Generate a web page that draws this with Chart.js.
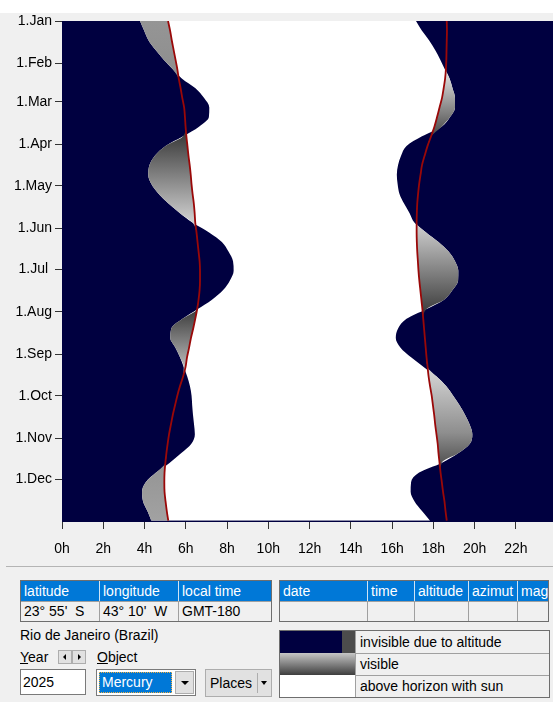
<!DOCTYPE html>
<html>
<head>
<meta charset="utf-8">
<script src="https://cdn.jsdelivr.net/npm/chart.js@4.4.1/dist/chart.umd.min.js"></script>
<style>
  body { margin: 0; width: 553px; height: 702px; overflow: hidden; background: #f0f0f0;
         font-family: "Liberation Sans", Arial, sans-serif; font-size: 14px; color: #000; position: relative; }
  .abs { position: absolute; }
  #topStrip { left: 0; top: 0; width: 553px; height: 13px; background: #fff; }
  #chartBox { left: 0; top: 0; width: 553px; height: 565px; }
  .sep { left: 6px; top: 566px; width: 547px; height: 1px; background: #b4b4b4; }
  .grid { border: 1px solid #6e6e6e; background: #f0f0f0; box-sizing: border-box; }
  .row { position: absolute; left: 0; right: 0; height: 20px; display: flex; }
  .row.head { top: 0; background: #0078d7; color: #fff; }
  .row.body { top: 20px; height: 19px; border-top: 1px solid #a0a0a0; }
  .cell { box-sizing: border-box; padding-left: 3px; line-height: 21px; white-space: pre; overflow: hidden; }
  .row.head .cell { border-right: 1px solid #cfe3f5; }
  .row.body .cell { border-right: 1px solid #a0a0a0; line-height: 19px; }
  .cell:last-child { border-right: none !important; flex: 1; }
  .legend { left: 279px; top: 630px; width: 271px; height: 68px; border: 1px solid #6e6e6e; box-sizing: border-box; background: #f0f0f0; }
  .lrow { position: absolute; left: 0; right: 0; height: 22px; display: flex; }
  .swatch { width: 76px; height: 100%; border-right: 1px solid #a0a0a0; box-sizing: border-box; display: flex; }
  .ltext { padding-left: 4px; line-height: 22px; }
  .btn { background: #e1e1e1; border: 1px solid #adadad; box-sizing: border-box; }
  .tri-down { width: 0; height: 0; border-left: 4px solid transparent; border-right: 4px solid transparent; border-top: 4px solid #000; }
</style>
</head>
<body>
<div id="topStrip" class="abs"></div>
<div id="chartBox" class="abs"><canvas id="visChart" width="553" height="565"></canvas></div>
<div class="abs sep"></div>

<!-- place table -->
<div class="abs grid" style="left:20px; top:580px; width:252px; height:42px;">
  <div class="row head"><div class="cell" style="width:79px">latitude</div><div class="cell" style="width:79px">longitude</div><div class="cell">local time</div></div>
  <div class="row body"><div class="cell" style="width:79px">23° 55'  S</div><div class="cell" style="width:79px">43° 10'  W</div><div class="cell">GMT-180</div></div>
</div>

<!-- object table -->
<div class="abs grid" style="left:279px; top:580px; width:270px; height:42px;">
  <div class="row head"><div class="cell" style="width:88px">date</div><div class="cell" style="width:47px">time</div><div class="cell" style="width:54px">altitude</div><div class="cell" style="width:49px">azimut</div><div class="cell">mag</div></div>
  <div class="row body"><div class="cell" style="width:88px"></div><div class="cell" style="width:47px"></div><div class="cell" style="width:54px"></div><div class="cell" style="width:49px"></div><div class="cell"></div></div>
</div>

<div class="abs" style="left:20px; top:626px; line-height:18px;">Rio de Janeiro (Brazil)</div>
<div class="abs" style="left:20px; top:648px; line-height:18px;"><u>Y</u>ear</div>
<div class="abs btn" style="left:58px; top:650px; width:14px; height:14px;"><div class="abs" style="left:4px; top:3px; width:0; height:0; border-top:3px solid transparent; border-bottom:3px solid transparent; border-right:3px solid #000;"></div></div>
<div class="abs btn" style="left:72px; top:650px; width:14px; height:14px;"><div class="abs" style="left:5px; top:3px; width:0; height:0; border-top:3px solid transparent; border-bottom:3px solid transparent; border-left:3px solid #000;"></div></div>
<div class="abs" style="left:97px; top:648px; line-height:18px;"><u>O</u>bject</div>

<div class="abs" style="left:20px; top:669px; width:66px; height:26px; background:#fff; border:1px solid #7a7a7a; box-sizing:border-box; padding-left:2px; line-height:24px;">2025</div>

<div class="abs" style="left:96px; top:669px; width:100px; height:27px; background:#fff; border:1px solid #7a7a7a; box-sizing:border-box;">
  <div class="abs" style="left:2px; top:2px; width:73px; height:21px; background:#0078d7; color:#fff; border:1px dotted #f0b040; box-sizing:border-box; padding-left:2px; line-height:19px;">Mercury</div>
  <div class="abs btn" style="left:78px; top:1px; width:19px; height:23px;"><div class="abs tri-down" style="left:5px; top:9px;"></div></div>
</div>

<div class="abs btn" style="left:205px; top:669px; width:67px; height:28px;">
  <div class="abs" style="left:4px; top:0; line-height:26px;">Places</div>
  <div class="abs" style="left:51px; top:3px; width:1px; height:20px; background:#adadad;"></div>
  <div class="abs tri-down" style="left:55px; top:11px; border-left-width:3px; border-right-width:3px;"></div>
</div>

<!-- colour legend -->
<div class="abs legend">
  <div class="lrow" style="top:0; border-bottom:1px solid #a0a0a0;"><div class="swatch"><div style="width:62px; background:#000040"></div><div style="flex:1; background:#4c4c4c"></div></div><div class="ltext">invisible due to altitude</div></div>
  <div class="lrow" style="top:22px; border-bottom:1px solid #a0a0a0;"><div class="swatch" style="background:linear-gradient(#c6c6c6, #3e3e3e)"></div><div class="ltext">visible</div></div>
  <div class="lrow" style="top:44px;"><div class="swatch" style="background:#fff"></div><div class="ltext">above horizon with sun</div></div>
</div>

<script>
// day of year (0 = 1 Jan), one sample every week
const days = [0, 7, 14, 21, 28, 35, 42, 49, 56, 63, 70, 77, 84, 91, 98, 105, 112, 119, 126, 133,
    140, 147, 154, 161, 168, 175, 182, 189, 196, 203, 210, 217, 224, 231, 238, 245, 252, 259,
    266, 273, 280, 287, 294, 301, 308, 315, 322, 329, 336, 343, 350, 357, 364];

// hours: left edge of the white area (morning side)
const morningEdge = [3.78, 3.98, 4.19, 4.53, 4.92, 5.36, 5.82, 6.47, 6.88, 7.14, 7.12, 6.64, 5.87,
    5.02, 4.51, 4.24, 4.18, 4.34, 4.69, 5.16, 5.72, 6.34, 7.13, 7.75, 8.07, 8.29, 8.32, 8.14,
    7.81, 7.27, 6.56, 5.84, 5.30, 5.25, 5.50, 5.72, 5.90, 6.07, 6.20, 6.28, 6.31, 6.35, 6.40,
    6.44, 6.27, 5.77, 5.21, 4.56, 4.06, 3.88, 3.93, 4.14, 4.33];

// hours: right edge of the white area (evening side)
const eveningEdge = [17.16, 17.44, 17.79, 18.08, 18.33, 18.55, 18.79, 18.93, 19.05, 19.05, 18.81,
    18.40, 17.45, 16.70, 16.44, 16.29, 16.23, 16.27, 16.36, 16.58, 16.85, 17.09, 17.65, 18.25,
    18.74, 19.05, 19.21, 19.20, 18.93, 18.52, 17.65, 16.70, 16.29, 16.18, 16.41, 16.92, 17.53,
    18.16, 18.62, 18.96, 19.27, 19.54, 19.76, 19.89, 19.77, 19.20, 18.40, 17.31, 16.92, 16.90,
    17.09, 17.45, 17.84];

// sunrise / sunset (red lines)
const sunrise = [5.14, 5.24, 5.32, 5.41, 5.50, 5.59, 5.66, 5.75, 5.83, 5.92, 5.96, 5.99, 6.03,
    6.08, 6.13, 6.19, 6.24, 6.28, 6.33, 6.39, 6.43, 6.46, 6.52, 6.57, 6.62, 6.67, 6.69, 6.69,
    6.67, 6.62, 6.55, 6.46, 6.36, 6.25, 6.16, 6.06, 5.99, 5.87, 5.72, 5.59, 5.48, 5.37, 5.28,
    5.19, 5.12, 5.06, 5.01, 4.97, 4.96, 4.97, 5.02, 5.08, 5.15];

const sunset = [18.65, 18.66, 18.65, 18.64, 18.63, 18.61, 18.57, 18.50, 18.42, 18.30, 18.18,
    18.05, 17.89, 17.72, 17.58, 17.45, 17.38, 17.31, 17.26, 17.22, 17.20, 17.19, 17.19, 17.20,
    17.22, 17.25, 17.28, 17.32, 17.37, 17.42, 17.47, 17.51, 17.55, 17.59, 17.63, 17.67, 17.72,
    17.77, 17.84, 17.92, 17.98, 18.04, 18.09, 18.15, 18.21, 18.25, 18.30, 18.35, 18.41, 18.47,
    18.54, 18.59, 18.65];

const monthStarts = [0, 31, 59, 90, 120, 151, 181, 212, 243, 273, 304, 334];
const monthLabels = ["1.Jan", "1.Feb", "1.Mar", "1.Apr", "1.May", "1.Jun", "1.Jul ", "1.Aug",
    "1.Sep", "1.Oct", "1.Nov", "1.Dec"];
const hourTicks = [0, 2, 4, 6, 8, 10, 12, 14, 16, 18, 20, 22];

// grey shading of the "visible" areas, brightness by day of year
const leftShade = [[0, "#959595"], [40, "#8e8e8e"], [82, "#3a3a3a"], [150, "#d8d8d8"],
    [210, "#3a3a3a"], [256, "#c4c4c4"], [322, "#949494"], [365, "#a2a2a2"]];
const rightShade = [[0, "#8e8e8e"], [36, "#e6e6e6"], [83, "#4a4a4a"], [148, "#d0d0d0"],
    [213, "#3c3c3c"], [254, "#d6d6d6"], [300, "#8e8e8e"], [326, "#4a4a4a"], [365, "#8e8e8e"]];

const NAVY = "#000040";

function pts(values) {
    return days.map((d, i) => ({ x: values[i], y: d }));
}

// visible part before sunrise / after sunset
const dawnShade = morningEdge.map((h, i) => Math.min(h, sunrise[i]));
const duskShade = eveningEdge.map((h, i) => Math.max(h, sunset[i]));

function shade(stops) {
    return function (context) {
        const chart = context.chart;
        const area = chart.chartArea;
        if (!area) return "#888";
        const yScale = chart.scales.y;
        const g = chart.ctx.createLinearGradient(0, area.top, 0, area.bottom);
        stops.forEach(([d, c]) => {
            let t = (yScale.getPixelForValue(d) - area.top) / (area.bottom - area.top);
            g.addColorStop(Math.min(1, Math.max(0, t)), c);
        });
        return g;
    };
}

const areaBackground = {
    id: "areaBackground",
    beforeDatasetsDraw(chart) {
        const { ctx, chartArea } = chart;
        ctx.save();
        ctx.fillStyle = NAVY;
        ctx.fillRect(chartArea.left, chartArea.top, chartArea.right - chartArea.left, chartArea.bottom - chartArea.top);
        ctx.restore();
    },
};

Chart.defaults.font.family = "'Liberation Sans', Arial, sans-serif";
Chart.defaults.font.size = 14;
Chart.defaults.color = "#000";

const hidden = { borderWidth: 0, borderColor: "transparent", pointRadius: 0, cubicInterpolationMode: "monotone" };

new Chart(document.getElementById("visChart").getContext("2d"), {
    type: "line",
    data: {
        datasets: [
            { label: "sky", data: pts(morningEdge), fill: 1, backgroundColor: "#ffffff", order: 5, ...hidden },
            { label: "sky end", data: pts(eveningEdge), fill: false, order: 5, ...hidden },
            { label: "visible morning", data: pts(dawnShade), fill: 4, backgroundColor: shade(leftShade), order: 3, ...hidden },
            { label: "visible evening", data: pts(duskShade), fill: 5, backgroundColor: shade(rightShade), order: 3, ...hidden },
            { label: "sunrise", data: pts(sunrise), fill: false, borderColor: "#9a0808", borderWidth: 1.8, pointRadius: 0, cubicInterpolationMode: "monotone", order: 1 },
            { label: "sunset", data: pts(sunset), fill: false, borderColor: "#9a0808", borderWidth: 1.8, pointRadius: 0, cubicInterpolationMode: "monotone", order: 1 },
        ],
    },
    options: {
        responsive: false,
        animation: false,
        indexAxis: "y",
        layout: { padding: { top: 21, right: 0, left: 0, bottom: 0 } },
        plugins: { legend: { display: false }, tooltip: { enabled: false } },
        scales: {
            x: {
                type: "linear",
                min: 0,
                max: 23.8,
                afterBuildTicks: (scale) => { scale.ticks = hourTicks.map((v) => ({ value: v })); },
                afterFit: (scale) => { scale.height = 43; },
                ticks: { callback: (v) => v + "h", padding: 12, autoSkip: false, maxRotation: 0 },
                grid: { drawOnChartArea: false, tickLength: 7, color: "#333" },
                border: { display: false },
            },
            y: {
                type: "linear",
                reverse: true,
                min: 0,
                max: 365,
                afterBuildTicks: (scale) => { scale.ticks = monthStarts.map((v) => ({ value: v })); },
                afterFit: (scale) => { scale.width = 62; },
                ticks: { callback: (v, i) => monthLabels[i], padding: 3, autoSkip: false },
                grid: { drawOnChartArea: false, tickLength: 7, color: "#333" },
                border: { display: false },
            },
        },
    },
    plugins: [areaBackground],
});
</script>
</body>
</html>
